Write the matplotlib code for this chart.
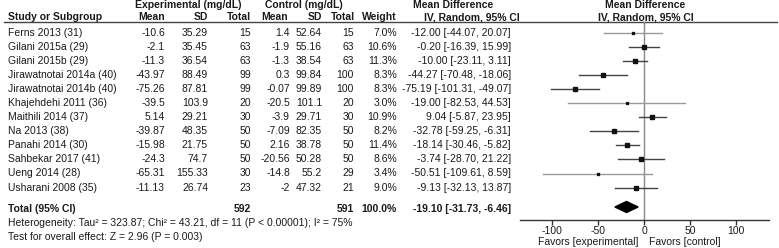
import numpy as np
import matplotlib.pyplot as plt
from matplotlib.patches import Polygon

plt.rcParams['font.family'] = ['Liberation Sans', 'DejaVu Sans']

# Study data
studies = ['Ferns 2013 (31)', 'Gilani 2015a (29)', 'Gilani 2015b (29)',
           'Jirawatnotai 2014a (40)', 'Jirawatnotai 2014b (40)', 'Khajehdehi 2011 (36)',
           'Maithili 2014 (37)', 'Na 2013 (38)', 'Panahi 2014 (30)',
           'Sahbekar 2017 (41)', 'Ueng 2014 (28)', 'Usharani 2008 (35)']
exp_mean = ['-10.6', '-2.1', '-11.3', '-43.97', '-75.26', '-39.5', '5.14', '-39.87', '-15.98', '-24.3', '-65.31', '-11.13']
exp_sd = ['35.29', '35.45', '36.54', '88.49', '87.81', '103.9', '29.21', '48.35', '21.75', '74.7', '155.33', '26.74']
exp_n = [15, 63, 63, 99, 99, 20, 30, 50, 50, 50, 30, 23]
ctl_mean = ['1.4', '-1.9', '-1.3', '0.3', '-0.07', '-20.5', '-3.9', '-7.09', '2.16', '-20.56', '-14.8', '-2']
ctl_sd = ['52.64', '55.16', '38.54', '99.84', '99.89', '101.1', '29.71', '82.35', '38.78', '50.28', '55.2', '47.32']
ctl_n = [15, 63, 63, 100, 100, 20, 30, 50, 50, 50, 29, 21]
weight = [7.0, 10.6, 11.3, 8.3, 8.3, 3.0, 10.9, 8.2, 11.4, 8.6, 3.4, 9.0]
md = [-12.00, -0.20, -10.00, -44.27, -75.19, -19.00, 9.04, -32.78, -18.14, -3.74, -50.51, -9.13]
lo = [-44.07, -16.39, -23.11, -70.48, -101.31, -82.53, -5.87, -59.25, -30.46, -28.70, -109.61, -32.13]
hi = [20.07, 15.99, 3.11, -18.06, -49.07, 44.53, 23.95, -6.31, -5.82, 21.22, 8.59, 13.87]

total_md, total_lo, total_hi = -19.10, -31.73, -6.46
ticks = [-100, -50, 0, 50, 100]

W, H = 779, 248
fig = plt.figure(figsize=(W / 100, H / 100), dpi=100)
ax = fig.add_axes([0, 0, 1, 1])
ax.set_xlim(0, W)
ax.set_ylim(H, 0)
ax.axis('off')

fs = 7.5
row0, dy = 32.5, 14.1
ys = [row0 + i * dy for i in range(len(studies))]
y_tot = 209

# headers
hdr = dict(fontsize=fs, fontweight='bold', va='center', color='#1a1a1a')
ax.text(188, 5, 'Experimental (mg/dL)', ha='center', **hdr)
ax.text(304, 5, 'Control (mg/dL)', ha='center', **hdr)
ax.text(453, 5, 'Mean Difference', ha='center', **hdr)
ax.text(645, 5, 'Mean Difference', ha='center', **hdr)
ax.text(8, 17, 'Study or Subgroup', ha='left', **hdr)
for x, s in [(165, 'Mean'), (208, 'SD'), (251, 'Total'), (288, 'Mean'),
             (322, 'SD'), (355, 'Total'), (397, 'Weight')]:
    ax.text(x, 17, s, ha='right', **hdr)
ax.text(472, 17, 'IV, Random, 95% CI', ha='center', **hdr)
ax.text(646, 17, 'IV, Random, 95% CI', ha='center', **hdr)
ax.plot([4, 777], [22, 22], color='#444444', lw=1)

# rows
txt = dict(fontsize=fs, va='center', color='#1a1a1a')
for i, y in enumerate(ys):
    ax.text(8, y, studies[i], ha='left', **txt)
    ax.text(165, y, exp_mean[i], ha='right', **txt)
    ax.text(208, y, exp_sd[i], ha='right', **txt)
    ax.text(251, y, str(exp_n[i]), ha='right', **txt)
    ax.text(290, y, ctl_mean[i], ha='right', **txt)
    ax.text(322, y, ctl_sd[i], ha='right', **txt)
    ax.text(354, y, str(ctl_n[i]), ha='right', **txt)
    ax.text(397, y, f'{weight[i]:.1f}%', ha='right', **txt)
    ax.text(511, y, f'{md[i]:.2f} [{lo[i]:.2f}, {hi[i]:.2f}]', ha='right', **txt)

bold = dict(txt, fontweight='bold')
ax.text(8, y_tot, 'Total (95% CI)', ha='left', **bold)
ax.text(251, y_tot, str(sum(exp_n)), ha='right', **bold)
ax.text(354, y_tot, str(sum(ctl_n)), ha='right', **bold)
ax.text(397, y_tot, '100.0%', ha='right', **bold)
ax.text(511, y_tot, f'{total_md:.2f} [{total_lo:.2f}, {total_hi:.2f}]', ha='right', **bold)
ax.text(8, 223, 'Heterogeneity: Tau² = 323.87; Chi² = 43.21, df = 11 (P < 0.00001); I² = 75%', ha='left', **txt)
ax.text(8, 237, 'Test for overall effect: Z = 2.96 (P = 0.003)', ha='left', **txt)

# forest panel
x0, x1, ytop, ybot = 520, 769, 22, 220
fx = fig.add_axes([x0 / W, 1 - ybot / H, (x1 - x0) / W, (ybot - ytop) / H])
fx.set_xlim(-135, 136)
fx.set_ylim(ybot, ytop)
fx.patch.set_alpha(0)
for s in ['top', 'left', 'right']:
    fx.spines[s].set_visible(False)
fx.spines['bottom'].set_color('#333333')
fx.spines['bottom'].set_linewidth(1)
fx.set_yticks([])
fx.set_xticks(ticks)
fx.set_xticklabels([str(t) for t in ticks], fontsize=fs, color='#1a1a1a')
fx.tick_params(axis='x', length=3.5, width=1, color='#333333', pad=0.5)

fx.axvline(0, color='#888888', lw=1, zorder=1)
for i, y in enumerate(ys):
    c = '#999999' if weight[i] < 7.5 and (hi[i] - lo[i]) > 60 else '#444444'
    fx.plot([lo[i], hi[i]], [y, y], color=c, lw=1, zorder=2)
    fx.plot(md[i], y, marker='s', color='#111111', ms=1.1 * np.sqrt(weight[i]) * 0.72, lw=0, zorder=3)

dh = 5.5
fx.add_patch(Polygon([[total_lo, y_tot - 2], [total_md, y_tot - 2 - dh], [total_hi, y_tot - 2], [total_md, y_tot - 2 + dh]],
                     closed=True, color='black', zorder=3))

ax.text(639, 242, 'Favors [experimental]', ha='right', **txt)
ax.text(649, 242, 'Favors [control]', ha='left', **txt)

fig.savefig('out.png', dpi=100)
